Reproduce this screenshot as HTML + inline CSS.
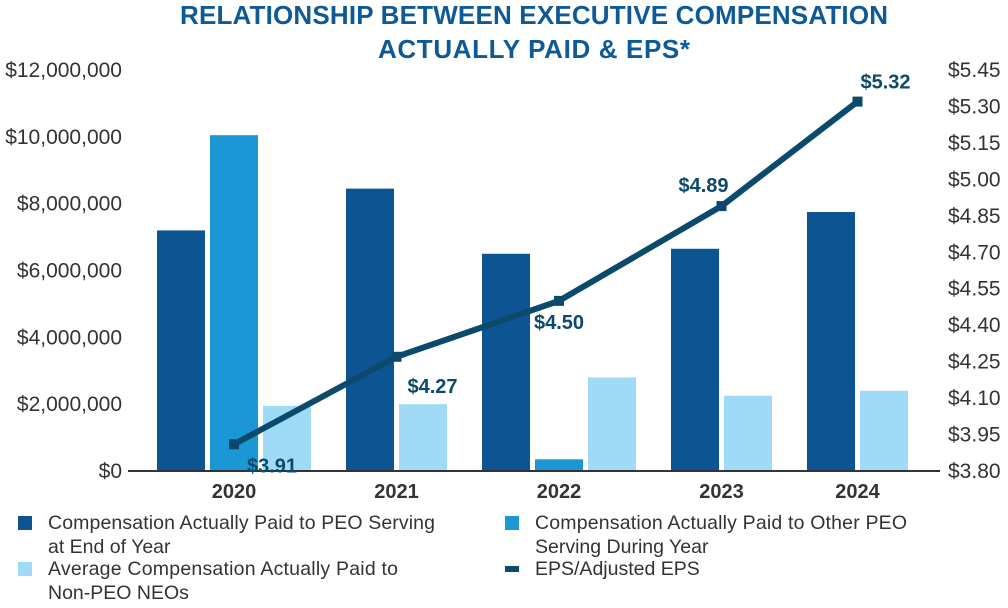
<!DOCTYPE html>
<html><head><meta charset="utf-8"><style>
body{margin:0;background:#fff;width:1008px;height:603px;overflow:hidden;font-family:"Liberation Sans",sans-serif}
</style></head><body>
<svg id="c" width="1008" height="603" xmlns="http://www.w3.org/2000/svg">
<text x="534" y="24" text-anchor="middle" font-size="26" font-weight="bold" fill="#0e5a96" textLength="708">RELATIONSHIP BETWEEN EXECUTIVE COMPENSATION</text>
<text x="534" y="58" text-anchor="middle" font-size="26" font-weight="bold" fill="#0e5a96" textLength="312">ACTUALLY PAID &amp; EPS*</text>
<g id="bars"></g><g id="axes"></g><g id="line"></g>
<g font-size="19.5" fill="#333">
<rect x="18" y="516" width="14" height="14" fill="#0c5592"/>
<text x="48" y="529" textLength="387">Compensation Actually Paid to PEO Serving</text>
<text x="48" y="553">at End of Year</text>
<rect x="18" y="562" width="14" height="14" fill="#9fdbf6"/>
<text x="48" y="575" textLength="350">Average Compensation Actually Paid to</text>
<text x="48" y="599">Non-PEO NEOs</text>
<rect x="505" y="516" width="14" height="14" fill="#1a97d4"/>
<text x="535" y="529" textLength="372">Compensation Actually Paid to Other PEO</text>
<text x="535" y="553">Serving During Year</text>
<rect x="505" y="566" width="14" height="6" fill="#0b4a6c"/>
<text x="535" y="575">EPS/Adjusted EPS</text>
</g>
</svg>
<script>
const years=["2020","2021","2022","2023","2024"];
const peoEnd=[7200000,8450000,6500000,6650000,7750000];
const otherPeo=[10050000,null,350000,null,null];
const nonPeo=[1950000,2000000,2800000,2250000,2400000];
const eps=[3.91,4.27,4.50,4.89,5.32];
const leftTicks=[0,2000000,4000000,6000000,8000000,10000000,12000000];
const rightTicks=[3.80,3.95,4.10,4.25,4.40,4.55,4.70,4.85,5.00,5.15,5.30,5.45];
const NS="http://www.w3.org/2000/svg";
const y0=471,yTop=70;
const yL=v=>y0-(v/12000000)*(y0-yTop);
const yR=v=>y0-((v-3.8)/1.65)*(y0-yTop);
function mk(t,a,p){const e=document.createElementNS(NS,t);for(const k in a)e.setAttribute(k,a[k]);p.appendChild(e);return e;}
const gb=document.getElementById('bars'),ga=document.getElementById('axes'),gl=document.getElementById('line');
const bw=48,ig=5,gg=35;let x=157;const centers=[];
const series=[[peoEnd,"#0c5592","peo-end"],[otherPeo,"#1a97d4","other-peo"],[nonPeo,"#9fdbf6","non-peo"]];
years.forEach((yr,i)=>{
  const start=x;
  series.forEach(([arr,col,nm])=>{
    const v=arr[i];if(v==null)return;
    const r=mk('rect',{x:x,y:yL(v),width:bw,height:y0-yL(v),fill:col},gb);
    
    
    x+=bw+ig;
  });
  const end=x-ig;centers.push((start+end)/2);
  const t=mk('text',{x:(start+end)/2,y:498,'text-anchor':'middle','font-size':20,'font-weight':'bold',fill:'#333'},ga);
  t.textContent=yr;
  
  
  x=end+gg;
});
const ax=mk('line',{x1:128,x2:940,y1:y0,y2:y0,stroke:'#333','stroke-width':2},ga);


leftTicks.forEach(v=>{
  const t=mk('text',{x:122,y:yL(v)+7,'text-anchor':'end','font-size':21,fill:'#333'},ga);
  t.textContent='$'+v.toLocaleString('en-US');
  
  
});
rightTicks.forEach(v=>{
  const t=mk('text',{x:948,y:yR(v)+7,'font-size':21,fill:'#333'},ga);
  t.textContent='$'+v.toFixed(2);
  
  
});
const pts=eps.map((v,i)=>[centers[i],yR(v)]);
const pl=mk('polyline',{points:pts.map(p=>p.join(',')).join(' '),fill:'none',stroke:'#0b4a6c','stroke-width':6},gl);


const off=[[38,28],[36,36],[0,28],[-18,-14],[28,-13]];
pts.forEach((p,i)=>{
  const m=mk('rect',{x:p[0]-5,y:p[1]-5,width:10,height:10,fill:'#0b4a6c'},gl);
  
  
  const t=mk('text',{x:p[0]+off[i][0],y:p[1]+off[i][1],'text-anchor':'middle','font-size':20,'font-weight':'bold',fill:'#0b4a6c'},gl);
  t.textContent='$'+eps[i].toFixed(2);
  
  
});
</script>
</body></html>
